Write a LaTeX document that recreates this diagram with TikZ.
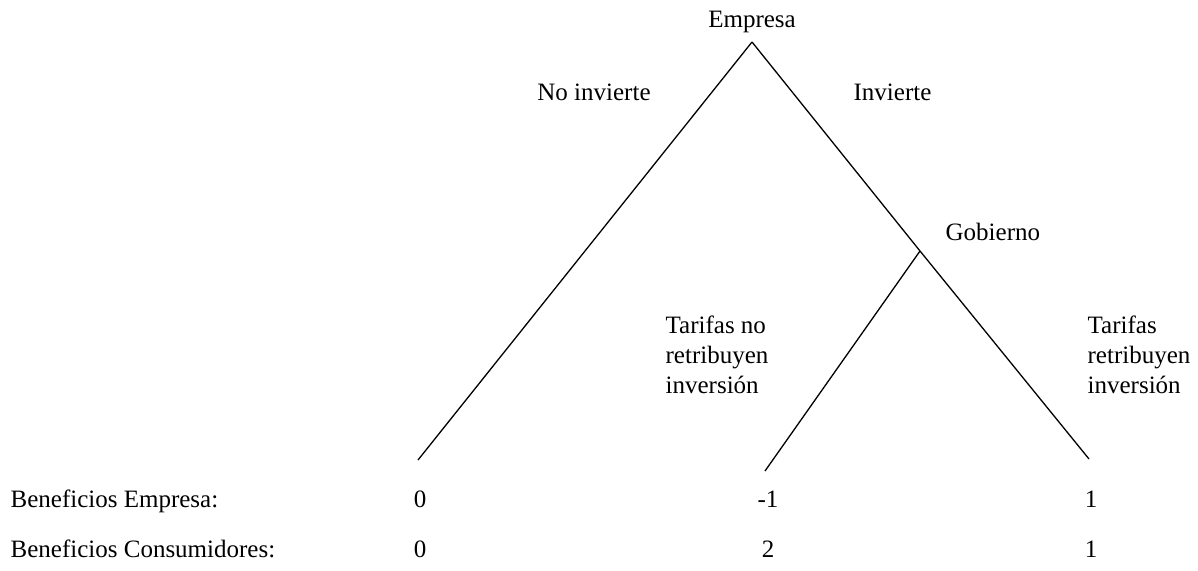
\documentclass[tikz,border=0pt]{standalone}
\usepackage{fontspec}
\setmainfont{Liberation Serif}
\tikzset{every picture/.style={line width=0.65pt}}
\tikzset{
	lbl/.style={font=\fontsize{12.5}{15}\selectfont, inner sep=0pt},
	lblblock/.style={lbl, anchor=north west, align=left}}

\begin{document}
\begin{tikzpicture}[x=0.5pt,y=0.5pt,yscale=-1,xscale=1]
	\useasboundingbox (0,0) rectangle (1198,571);

	% Decision points and end points
	\coordinate (empresa) at (752,42);
	\coordinate (gobierno) at (920,251);
	\coordinate (endNoInv) at (418,460);
	\coordinate (endNoRet) at (765,471);
	\coordinate (endRet) at (1089,459);

	%Straight Lines
	\draw (empresa) -- (endNoInv);
	\draw (empresa) -- (gobierno) -- (endRet);
	\draw (gobierno) -- (endNoRet);

	% Text Node
	\node[lbl, anchor=base] (tEmpresa) at (752,28) {Empresa};
	% Text Node
	\node[lbl, anchor=base] (tNoInv) at (594,101) {No invierte};
	% Text Node
	\node[lbl, anchor=base west] (tInv) at (853,101) {Invierte};
	% Text Node
	\node[lbl, anchor=base west] (tGobierno) at (945,241) {Gobierno};
	% Text Node
	\node[lblblock] (tNoRet) at (665,315) {Tarifas no\\retribuyen\\inversión};
	% Text Node
	\node[lblblock] (tRet) at (1087,315) {Tarifas\\retribuyen\\inversión};

	% Payoffs
	\node[lbl, anchor=base west] (bEmp) at (10,507) {Beneficios Empresa:};
	\node[lbl, anchor=base west] (bCons) at (10,557) {Beneficios Consumidores:};
	\node[lbl, anchor=base] (pEmpA) at (420,507) {0};
	\node[lbl, anchor=base] (pEmpB) at (768,507) {-1};
	\node[lbl, anchor=base] (pEmpC) at (1091,507) {1};
	\node[lbl, anchor=base] (pConA) at (420,557) {0};
	\node[lbl, anchor=base] (pConB) at (768,557) {2};
	\node[lbl, anchor=base] (pConC) at (1091,557) {1};

\end{tikzpicture}
\end{document}
